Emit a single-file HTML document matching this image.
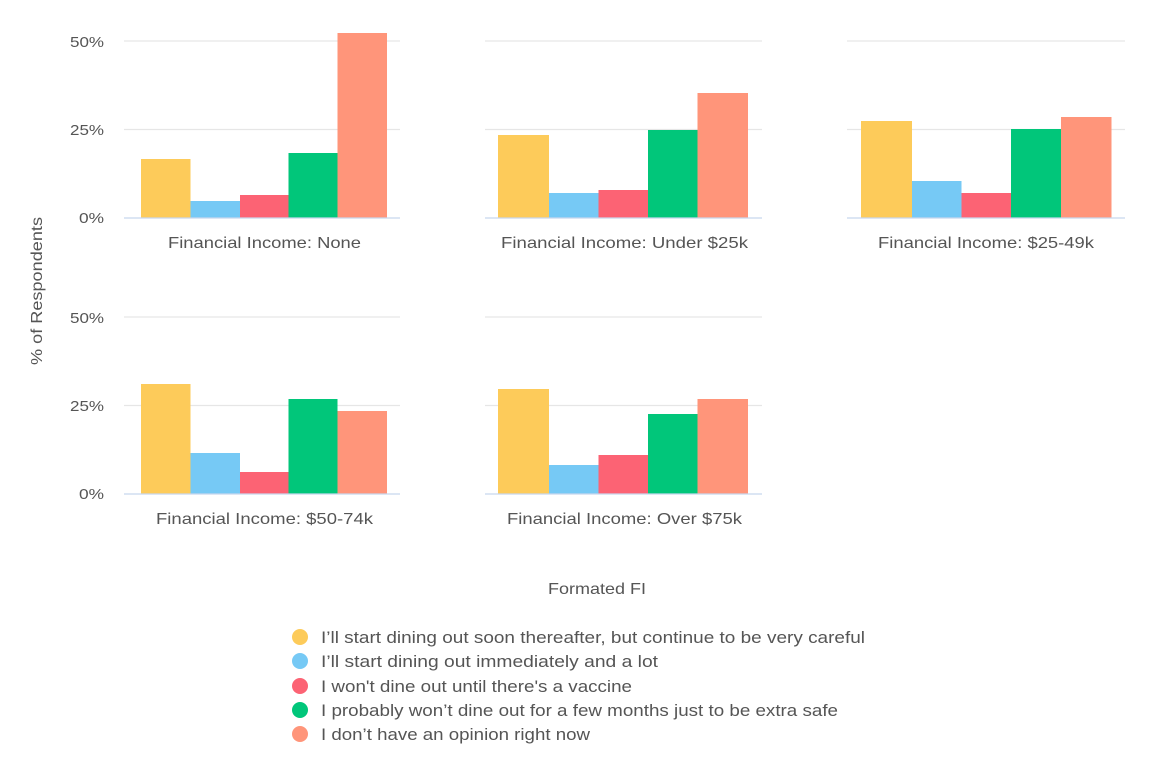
<!DOCTYPE html>
<html><head><meta charset="utf-8"><style>
html,body{margin:0;padding:0;background:#fff;}
svg{display:block;font-family:"Liberation Sans",sans-serif;}
text{fill:#555;}
</style></head><body>
<svg width="1154" height="776" viewBox="0 0 1154 776" xmlns="http://www.w3.org/2000/svg">
<g font-size="15" text-anchor="end">
<text x="104" y="47" textLength="34" lengthAdjust="spacingAndGlyphs">50%</text><text x="104" y="135" textLength="34" lengthAdjust="spacingAndGlyphs">25%</text><text x="104" y="223" textLength="25" lengthAdjust="spacingAndGlyphs">0%</text>
<text x="104" y="323" textLength="34" lengthAdjust="spacingAndGlyphs">50%</text><text x="104" y="411" textLength="34" lengthAdjust="spacingAndGlyphs">25%</text><text x="104" y="499" textLength="25" lengthAdjust="spacingAndGlyphs">0%</text>
</g>
<g stroke="#e6e6e6" stroke-width="1.2">
<line x1="124" x2="400" y1="41" y2="41"/><line x1="124" x2="400" y1="129.5" y2="129.5"/>
<line x1="485" x2="762" y1="41" y2="41"/><line x1="485" x2="762" y1="129.5" y2="129.5"/>
<line x1="847" x2="1125" y1="41" y2="41"/><line x1="847" x2="1125" y1="129.5" y2="129.5"/>
<line x1="124" x2="400" y1="317" y2="317"/><line x1="124" x2="400" y1="405.5" y2="405.5"/>
<line x1="485" x2="762" y1="317" y2="317"/><line x1="485" x2="762" y1="405.5" y2="405.5"/>
</g>
<rect x="141" y="159" width="49.5" height="59" fill="#fdcb5a"/>
<rect x="190.5" y="201" width="49.5" height="17" fill="#76c9f5"/>
<rect x="240" y="195" width="48.5" height="23" fill="#fc6374"/>
<rect x="288.5" y="153" width="49" height="65" fill="#01c67a"/>
<rect x="337.5" y="33" width="49.5" height="185" fill="#ff957a"/>
<rect x="498" y="135" width="51" height="83" fill="#fdcb5a"/>
<rect x="549" y="193" width="49.5" height="25" fill="#76c9f5"/>
<rect x="598.5" y="190" width="49.5" height="28" fill="#fc6374"/>
<rect x="648" y="130" width="49.5" height="88" fill="#01c67a"/>
<rect x="697.5" y="93" width="50.5" height="125" fill="#ff957a"/>
<rect x="861" y="121" width="51" height="97" fill="#fdcb5a"/>
<rect x="912" y="181" width="49.5" height="37" fill="#76c9f5"/>
<rect x="961.5" y="193" width="49.5" height="25" fill="#fc6374"/>
<rect x="1011" y="129" width="50" height="89" fill="#01c67a"/>
<rect x="1061" y="117" width="50.5" height="101" fill="#ff957a"/>
<rect x="141" y="384" width="49.5" height="110" fill="#fdcb5a"/>
<rect x="190.5" y="453" width="49.5" height="41" fill="#76c9f5"/>
<rect x="240" y="472" width="48.5" height="22" fill="#fc6374"/>
<rect x="288.5" y="399" width="49" height="95" fill="#01c67a"/>
<rect x="337.5" y="411" width="49.5" height="83" fill="#ff957a"/>
<rect x="498" y="389" width="51" height="105" fill="#fdcb5a"/>
<rect x="549" y="465" width="49.5" height="29" fill="#76c9f5"/>
<rect x="598.5" y="455" width="49.5" height="39" fill="#fc6374"/>
<rect x="648" y="414" width="49.5" height="80" fill="#01c67a"/>
<rect x="697.5" y="399" width="50.5" height="95" fill="#ff957a"/>
<g stroke="#c8d6ee" stroke-width="1.3">
<line x1="124" x2="400" y1="218" y2="218"/><line x1="485" x2="762" y1="218" y2="218"/><line x1="847" x2="1125" y1="218" y2="218"/>
<line x1="124" x2="400" y1="494" y2="494"/><line x1="485" x2="762" y1="494" y2="494"/>
</g>
<g font-size="16" lengthAdjust="spacingAndGlyphs">
<text x="168" y="248" textLength="193" lengthAdjust="spacingAndGlyphs">Financial Income: None</text>
<text x="501" y="248" textLength="247" lengthAdjust="spacingAndGlyphs">Financial Income: Under $25k</text>
<text x="878" y="248" textLength="216" lengthAdjust="spacingAndGlyphs">Financial Income: $25-49k</text>
<text x="156" y="524" textLength="217" lengthAdjust="spacingAndGlyphs">Financial Income: $50-74k</text>
<text x="507" y="524" textLength="235" lengthAdjust="spacingAndGlyphs">Financial Income: Over $75k</text>
<text x="548" y="594" textLength="98" lengthAdjust="spacingAndGlyphs">Formated FI</text>
<text transform="translate(42,365) rotate(-90)" x="0" y="0" textLength="148" lengthAdjust="spacingAndGlyphs">% of Respondents</text>
</g>
<g font-size="17">
<circle cx="300" cy="637" r="8" fill="#fdcb5a"/><text x="321" y="643" textLength="544" lengthAdjust="spacingAndGlyphs">I’ll start dining out soon thereafter, but continue to be very careful</text>
<circle cx="300" cy="661" r="8" fill="#76c9f5"/><text x="321" y="667" textLength="337" lengthAdjust="spacingAndGlyphs">I’ll start dining out immediately and a lot</text>
<circle cx="300" cy="686" r="8" fill="#fc6374"/><text x="321" y="692" textLength="311" lengthAdjust="spacingAndGlyphs">I won't dine out until there's a vaccine</text>
<circle cx="300" cy="710" r="8" fill="#01c67a"/><text x="321" y="716" textLength="517" lengthAdjust="spacingAndGlyphs">I probably won’t dine out for a few months just to be extra safe</text>
<circle cx="300" cy="734" r="8" fill="#ff957a"/><text x="321" y="740" textLength="269" lengthAdjust="spacingAndGlyphs">I don’t have an opinion right now</text>
</g>
</svg>
</body></html>
